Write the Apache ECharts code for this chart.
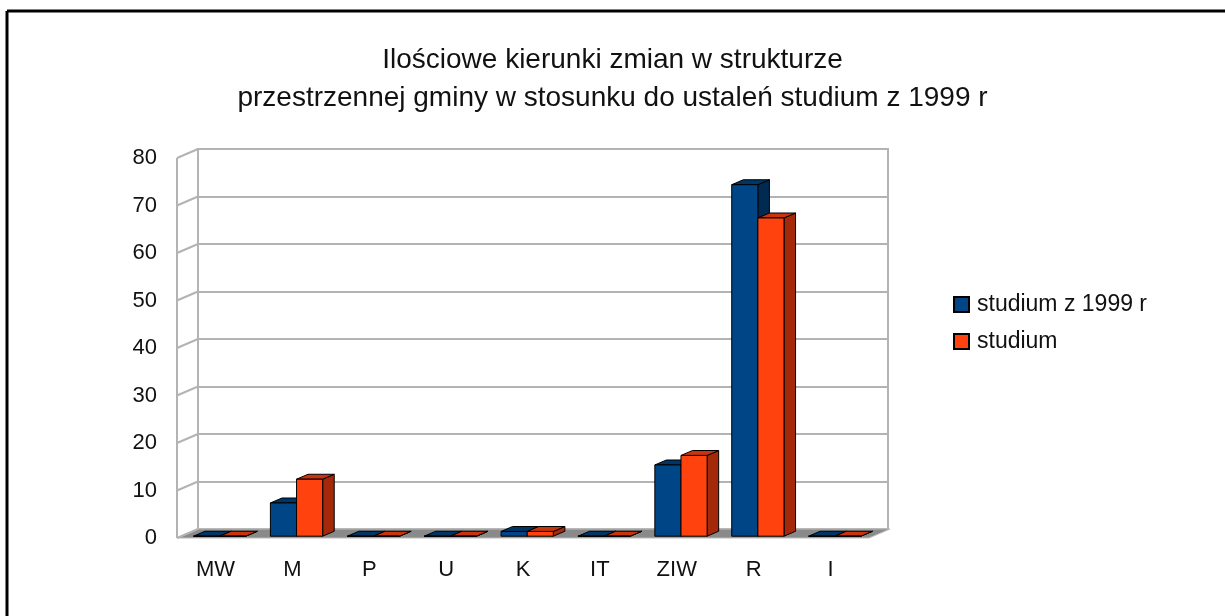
<!DOCTYPE html>
<html>
<head>
<meta charset="utf-8">
<script src="https://cdn.jsdelivr.net/npm/echarts@6/dist/echarts.min.js"></script>
<style>
html,body{margin:0;padding:0;background:#fff;}
#main{width:1225px;height:616px;}
</style>
</head>
<body>
<div id="main"></div>
<script>
// kategorie i wartosci
var kategorie = ['MW', 'M', 'P', 'U', 'K', 'IT', 'ZIW', 'R', 'I'];
var studium1999 = [0, 7, 0, 0, 1, 0, 15, 74, 0];
var studium = [0, 12, 0, 0, 1, 0, 17, 67, 0];
var osY = [0, 10, 20, 30, 40, 50, 60, 70, 80];

// przesuniecie glebi (3D)
var DX = 21, DY = -9;
var FONT = '"Liberation Sans", Arial, sans-serif';

function slupek(idx, kolor, bok, gora) {
	return function(params, api) {
		var cat = api.value(0), val = api.value(1);
		var base = api.coord([cat, 0]);
		var top = api.coord([cat, val]);
		var band = api.size([1, 0])[0];
		var w = band * 0.34;
		var x0 = base[0] - w + idx * w;
		var fx = DX * 0.2, fy = DY * 0.2;
		var bx = DX * 0.75, by = DY * 0.75;
		var ty = top[1], by0 = base[1];
		var st = {stroke: '#000', lineWidth: 1};
		return {
			type: 'group',
			children: [
				{type: 'polygon', shape: {points: [[x0 + w + fx, ty + fy], [x0 + w + bx, ty + by], [x0 + w + bx, by0 + by], [x0 + w + fx, by0 + fy]]},
					style: Object.assign({fill: bok}, st)},
				{type: 'polygon', shape: {points: [[x0 + fx, ty + fy], [x0 + w + fx, ty + fy], [x0 + w + bx, ty + by], [x0 + bx, ty + by]]},
					style: Object.assign({fill: gora}, st)},
				{type: 'rect', shape: {x: x0 + fx, y: ty + fy, width: w, height: by0 - ty},
					style: Object.assign({fill: kolor}, st)}
			]
		};
	};
}

function sciana(params, api) {
	var v = api.value(0);
	var band = api.size([1, 0])[0];
	var p = api.coord([0, v]);
	var x0 = p[0] - band / 2;
	var kids = [
		{type: 'line', shape: {x1: x0, y1: p[1], x2: x0 + DX, y2: p[1] + DY}, style: {stroke: '#b3b3b3', lineWidth: 2}}
	];
	if (v === 0) {
		var p8 = api.coord([0, 80]);
		var W = band * kategorie.length;
		kids.unshift({type: 'polygon', shape: {points: [[x0, p[1]], [x0 + W, p[1]], [x0 + W + DX, p[1] + DY], [x0 + DX, p[1] + DY]]},
			style: {fill: '#8a8a8a', stroke: '#bdbdbd', lineWidth: 1}});
		kids.push({type: 'line', shape: {x1: x0, y1: p[1], x2: x0, y2: p8[1]}, style: {stroke: '#b3b3b3', lineWidth: 2}});
	}
	return {type: 'group', children: kids};
}

var myChart = echarts.init(document.getElementById('main'));
myChart.setOption({
	backgroundColor: '#fff',
	title: {
		text: 'Ilościowe kierunki zmian w strukturze\nprzestrzennej gminy w stosunku do ustaleń studium z 1999 r',
		left: 'center',
		top: 36,
		textStyle: {fontFamily: FONT, fontSize: 28, fontWeight: 'normal', color: '#111', lineHeight: 38}
	},
	legend: {
		orient: 'vertical',
		left: 948,
		top: 288,
		itemWidth: 15,
		itemHeight: 15,
		itemGap: 14,
		icon: 'rect',
		data: ['studium z 1999 r', 'studium'],
		textStyle: {fontFamily: FONT, fontSize: 23, color: '#111', padding: [0, 0, 0, 3]}
	},
	graphic: [
		{type: 'line', shape: {x1: 7, y1: 11, x2: 1225, y2: 11}, style: {stroke: '#000', lineWidth: 3}},
		{type: 'line', shape: {x1: 7, y1: 11, x2: 7, y2: 616}, style: {stroke: '#000', lineWidth: 3}}
	],
	grid: [
		{left: 177, top: 158, width: 692, height: 380},
		{left: 198, top: 149, width: 690, height: 380, show: true, borderColor: '#b3b3b3', borderWidth: 2}
	],
	xAxis: [
		{
			type: 'category', gridIndex: 0, data: kategorie,
			axisLine: {show: false}, axisTick: {show: false},
			axisLabel: {fontFamily: FONT, fontSize: 22, color: '#111', margin: 21}
		},
		{
			type: 'category', gridIndex: 1, data: kategorie,
			axisLine: {show: false}, axisTick: {show: false}, axisLabel: {show: false}
		}
	],
	yAxis: [
		{
			type: 'value', gridIndex: 0, min: 0, max: 80, interval: 10,
			axisLine: {show: false}, axisTick: {show: false}, splitLine: {show: false},
			axisLabel: {fontFamily: FONT, fontSize: 22, color: '#111', margin: 20}
		},
		{
			type: 'value', gridIndex: 1, min: 0, max: 80, interval: 10,
			axisLine: {show: false}, axisTick: {show: false}, axisLabel: {show: false},
			splitLine: {lineStyle: {color: '#b3b3b3', width: 2}}
		}
	],
	series: [
		{
			name: 'sciana', type: 'custom', xAxisIndex: 0, yAxisIndex: 0,
			data: osY.map(function(v) { return [v]; }),
			encode: {y: 0},
			renderItem: sciana, silent: true, z: 1
		},
		{
			name: 'studium z 1999 r', type: 'custom', xAxisIndex: 0, yAxisIndex: 0,
			itemStyle: {color: '#004586', borderColor: '#000', borderWidth: 1},
			data: kategorie.map(function(k, i) { return [i, studium1999[i]]; }),
			encode: {x: 0, y: 1},
			renderItem: slupek(0, '#004586', '#002a52', '#003566'), z: 3
		},
		{
			name: 'studium', type: 'custom', xAxisIndex: 0, yAxisIndex: 0,
			itemStyle: {color: '#ff420e', borderColor: '#000', borderWidth: 1},
			data: kategorie.map(function(k, i) { return [i, studium[i]]; }),
			encode: {x: 0, y: 1},
			renderItem: slupek(1, '#ff420e', '#a3290a', '#c8340b'), z: 3
		}
	]
});
</script>
</body>
</html>
